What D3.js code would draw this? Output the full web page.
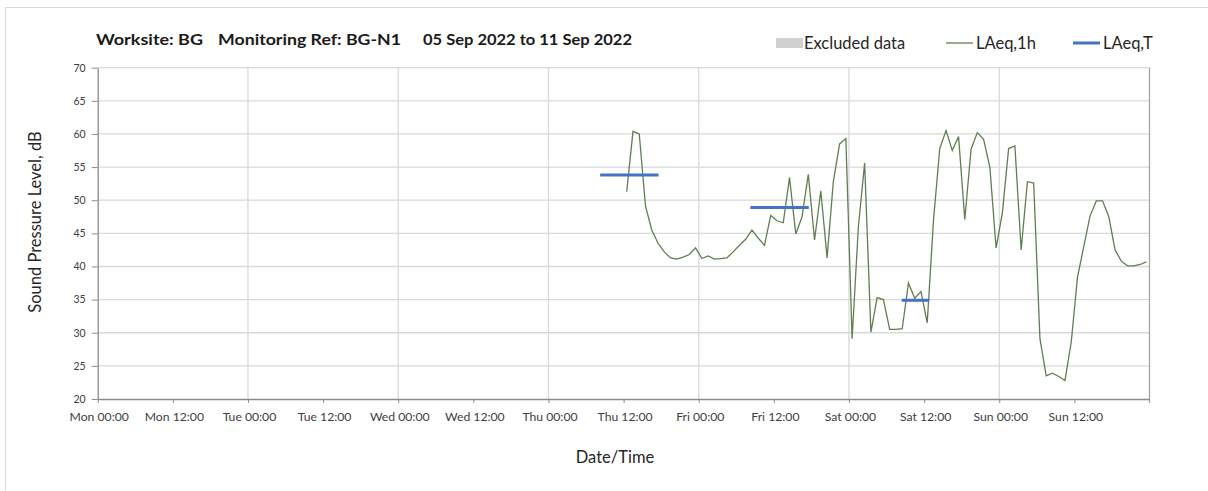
<!DOCTYPE html>
<html>
<head>
<meta charset="utf-8">
<script src="https://cdn.jsdelivr.net/npm/d3@7"></script>
<style>
  body { margin: 0; background: #fff; }
  svg text { font-family: Lato, "Open Sans", sans-serif; }
</style>
</head>
<body>
<div id="chart"></div>
<script>
// hourly LAeq,1h readings, first one at Thu 08 Sep 12:30
const startTime = "2022-09-08 12:30";
const laeq1h = [
  51.3, 60.4, 60.0, 49.1, 45.5, 43.5, 42.2, 41.3, 41.1, 41.4, 41.8, 42.8,
  41.2, 41.6, 41.1, 41.2, 41.3, 42.2, 43.2, 44.1, 45.5, 44.3, 43.2, 47.7,
  46.9, 46.6, 53.4, 44.9, 47.5, 53.9, 44.0, 51.4, 41.3, 52.8, 58.5, 59.3,
  29.1, 46.0, 55.6, 30.1, 35.3, 35.0, 30.5, 30.5, 30.6, 37.5, 35.2, 36.2,
  31.5, 47.0, 57.8, 60.5, 57.5, 59.6, 47.1, 57.7, 60.2, 59.2, 55.0, 42.8,
  48.1, 57.8, 58.2, 42.5, 52.8, 52.6, 29.1, 23.5, 23.9, 23.4, 22.8, 28.6,
  38.4, 43.0, 47.6, 49.9, 49.9, 47.5, 42.5, 40.8, 40.1, 40.1, 40.3, 40.7
];

// LAeq,T periods
const laeqTStart = ["2022-09-08 08:15", "2022-09-09 08:15", "2022-09-10 08:25"];
const laeqTEnd = ["2022-09-08 17:35", "2022-09-09 17:35", "2022-09-10 12:50"];
const laeqT = [53.8, 48.9, 34.9];

const yTicks = [20, 25, 30, 35, 40, 45, 50, 55, 60, 65, 70];
const titleParts = ["Worksite: BG", "Monitoring Ref: BG-N1", "05 Sep 2022 to 11 Sep 2022"];
const legendLabels = ["Excluded data", "LAeq,1h", "LAeq,T"];

const W = 1208, H = 491;
const plot = { left: 97.7, right: 1149.5, top: 67.7, bottom: 399 };

const parse = d3.timeParse("%Y-%m-%d %H:%M");
const t0 = parse(startTime);
const series = laeq1h.map((v, i) => ({ t: d3.timeHour.offset(t0, i), v }));
const periods = laeqT.map((v, i) => ({ a: parse(laeqTStart[i]), b: parse(laeqTEnd[i]), v }));

const svg = d3.select("#chart").append("svg")
    .attr("width", W)
    .attr("height", H);

// outer chart border
svg.append("rect")
    .attr("x", 5.5).attr("y", 7.5)
    .attr("width", W).attr("height", H)
    .attr("fill", "none")
    .attr("stroke", "#d9d9d9");

const x = d3.scaleTime()
    .domain([parse("2022-09-05 00:00"), parse("2022-09-12 00:00")])
    .range([plot.left, plot.right]);

const y = d3.scaleLinear()
    .domain([20, 70])
    .range([plot.bottom, plot.top]);

// horizontal gridlines
svg.append("g")
    .selectAll("line")
    .data(yTicks.slice(1))
    .join("line")
    .attr("x1", plot.left).attr("x2", plot.right)
    .attr("y1", d => y(d)).attr("y2", d => y(d))
    .attr("stroke", "#d9d9d9")
    .attr("stroke-width", 1.3);

// vertical gridlines at midnight
svg.append("g")
    .selectAll("line")
    .data(d3.timeDay.range(parse("2022-09-06 00:00"), parse("2022-09-12 00:00")))
    .join("line")
    .attr("x1", d => x(d)).attr("x2", d => x(d))
    .attr("y1", plot.top).attr("y2", plot.bottom)
    .attr("stroke", "#d9d9d9")
    .attr("stroke-width", 1.3);

// right border of plot
svg.append("line")
    .attr("x1", plot.right).attr("x2", plot.right)
    .attr("y1", plot.top).attr("y2", plot.bottom + 4)
    .attr("stroke", "#a6a6a6")
    .attr("stroke-width", 1.3);

// axes
const xAxis = svg.append("g")
    .attr("transform", `translate(0,${plot.bottom})`)
    .call(d3.axisBottom(x)
        .tickValues(d3.timeHour.every(12).range(parse("2022-09-05 00:00"), parse("2022-09-12 00:00")))
        .tickFormat(d3.timeFormat("%a %H:%M"))
        .tickSize(4)
        .tickSizeOuter(0));
xAxis.select(".domain").attr("stroke", "#8c8c8c").attr("stroke-width", 1.3);
xAxis.selectAll(".tick line").attr("stroke", "#8c8c8c");
xAxis.selectAll(".tick text")
    .attr("dy", "0")
    .attr("y", 22)
    .attr("dx", 1)
    .attr("fill", "#404040")
    .style("font-size", "12.2px");

const yAxis = svg.append("g")
    .attr("transform", `translate(${plot.left},0)`)
    .call(d3.axisLeft(y).tickValues(yTicks).tickSize(6).tickSizeOuter(0));
yAxis.select(".domain").attr("stroke", "#8c8c8c").attr("stroke-width", 1.3);
yAxis.selectAll(".tick line").attr("stroke", "#8c8c8c");
yAxis.selectAll(".tick text")
    .attr("x", -12)
    .attr("fill", "#404040")
    .style("font-size", "10.5px");

// LAeq,1h line
svg.append("path")
    .datum(series)
    .attr("fill", "none")
    .attr("stroke", "#607f50")
    .attr("stroke-width", 1.3)
    .attr("d", d3.line().x(d => x(d.t)).y(d => y(d.v)));

// LAeq,T segments
svg.append("g")
    .selectAll("line")
    .data(periods)
    .join("line")
    .attr("x1", d => x(d.a)).attr("x2", d => x(d.b))
    .attr("y1", d => y(d.v)).attr("y2", d => y(d.v))
    .attr("stroke", "#4472c4")
    .attr("stroke-width", 3);

// title
const titleX = [96, 218, 423];
const titleW = [107, 183, 209];
svg.append("g")
    .selectAll("text")
    .data(titleParts)
    .join("text")
    .attr("x", (d, i) => titleX[i])
    .attr("y", 45)
    .attr("textLength", (d, i) => titleW[i])
    .attr("lengthAdjust", "spacingAndGlyphs")
    .attr("font-weight", "bold")
    .attr("font-size", "15px")
    .attr("fill", "#1a1a1a")
    .text(d => d);

// legend
const leg = svg.append("g").attr("font-size", "16.5px").attr("fill", "#262626");
leg.append("rect")
    .attr("x", 776).attr("y", 38).attr("width", 27).attr("height", 10)
    .attr("fill", "#d0d0d0");
leg.append("line")
    .attr("x1", 946).attr("x2", 973).attr("y1", 43).attr("y2", 43)
    .attr("stroke", "#607f50").attr("stroke-width", 1.3);
leg.append("line")
    .attr("x1", 1073).attr("x2", 1100).attr("y1", 43).attr("y2", 43)
    .attr("stroke", "#4472c4").attr("stroke-width", 3);
const legX = [804, 976, 1103];
leg.selectAll("text")
    .data(legendLabels)
    .join("text")
    .attr("x", (d, i) => legX[i])
    .attr("y", 49)
    .text(d => d);

// axis titles
svg.append("text")
    .attr("transform", "rotate(-90)")
    .attr("x", -222)
    .attr("y", 41)
    .attr("text-anchor", "middle")
    .attr("font-size", "16.5px")
    .attr("fill", "#262626")
    .text("Sound Pressure Level, dB");

svg.append("text")
    .attr("x", 615)
    .attr("y", 463)
    .attr("text-anchor", "middle")
    .attr("font-size", "16.5px")
    .attr("fill", "#262626")
    .text("Date/Time");
</script>
</body>
</html>
